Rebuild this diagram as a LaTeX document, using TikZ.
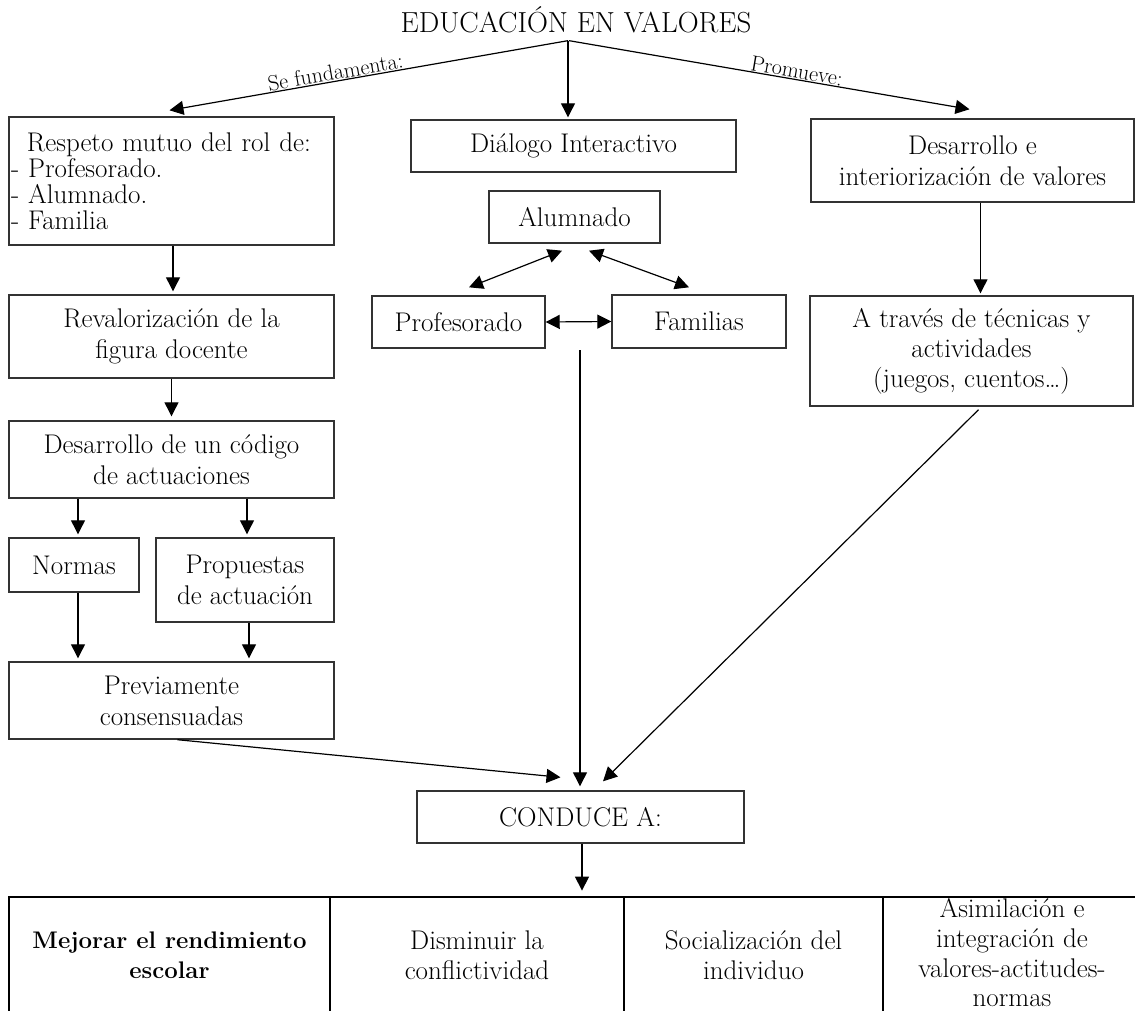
\documentclass[tikz,border=0pt]{standalone}
\usetikzlibrary{arrows.meta,calc}
\begin{document}
\begin{tikzpicture}[x=1pt,y=-1pt,
  every node/.style={font=\fontsize{27}{31}\selectfont},
  box/.style={draw=black!80, line width=1.4pt, inner sep=0pt, align=center},
  arr/.style={line width=1.2pt, -{Triangle[length=14pt,width=14pt]}},
  darr/.style={line width=1.2pt, {Triangle[length=14pt,width=14pt]}-{Triangle[length=14pt,width=14pt]}},
  lbl/.style={font=\fontsize{22}{24}\selectfont, sloped, above, inner sep=0.5pt},
  cell/.style={draw, line width=2.8pt, inner sep=0pt, align=center},
  celltext/.style={inner sep=0pt, align=center}
]
\useasboundingbox (0,0) rectangle (1135,1011);

% title
\node[inner sep=0pt, anchor=base, font=\fontsize{29}{31}\selectfont] (title) at (576,33) {EDUCACIÓN EN VALORES};

% left column
\node[box, minimum width=325pt, minimum height=128pt, text width=321pt, align=left,
      font=\fontsize{27}{26}\selectfont] (resp) at (171.5,181)
  {\hspace*{16pt}Respeto mutuo del rol de:\\- Profesorado.\\- Alumnado.\\- Familia};
\node[box, minimum width=325pt, minimum height=83pt] (reval) at (171.5,336.5)
  {Revalorización de la\\figura docente};
\node[box, minimum width=325pt, minimum height=77pt] (cod) at (171.5,459.5)
  {Desarrollo de un código\\de actuaciones};
\node[box, minimum width=130pt, minimum height=54pt] (norm) at (74,565) {Normas};
\node[box, minimum width=178pt, minimum height=84pt] (prop) at (245,580)
  {Propuestas\\de actuación};
\node[box, minimum width=325pt, minimum height=77pt] (prev) at (171.5,700.5)
  {Previamente\\consensuadas};

% middle column
\node[box, minimum width=325pt, minimum height=52pt] (dial) at (573.5,146) {Diálogo Interactivo};
\node[box, minimum width=171pt, minimum height=52pt] (alum) at (574.5,217) {Alumnado};
\node[box, minimum width=173pt, minimum height=52pt] (prof) at (458.5,322) {Profesorado};
\node[box, minimum width=174pt, minimum height=53pt] (fam) at (699,321.5) {Familias};
\coordinate (vtop) at (580,350);

% right column
\node[box, minimum width=323pt, minimum height=83pt] (desa) at (972.5,160.5)
  {Desarrollo e\\interiorización de valores};
\node[box, minimum width=323pt, minimum height=110pt, font=\fontsize{27}{30}\selectfont] (trav) at (971.5,351)
  {A través de técnicas y\\actividades\\(juegos, cuentos\ldots)};

% convergence
\node[box, minimum width=327pt, minimum height=52pt] (cond) at (580.5,817) {CONDUCE A:};

% outcomes (the table runs past the right and bottom edges)
\node[cell, minimum width=321pt, minimum height=117pt, font=\fontsize{24}{30}\selectfont] (c1) at (169.5,955.5)
  {\bfseries Mejorar el rendimiento\\\bfseries escolar};
\node[cell, minimum width=294pt, minimum height=117pt, font=\fontsize{27}{30}\selectfont] (c2) at (477,955.5)
  {Disminuir la\\conflictividad};
\node[cell, minimum width=259pt, minimum height=117pt, font=\fontsize{27}{30}\selectfont] (c3) at (753.5,955.5)
  {Socialización del\\individuo};
\node[cell, minimum width=258pt, minimum height=117pt] (c4) at (1012,955.5) {};
\node[celltext, font=\fontsize{27}{29.7}\selectfont] (c4t) at ($(c4.center)+(0,-2.5)$)
  {Asimilación e\\integración de\\valores-actitudes-\\normas};

% connectors from the title
\draw[arr] ([shift={(-8,7)}]title.south) -- node[lbl, pos=0.58] {Se fundamenta:} ($(resp.north)+(-2,-6)$);
\draw[arr] ([shift={(-8,7)}]title.south) -- ($(dial.north)+(-5.5,-2)$);
\draw[arr] ([shift={(-7,7)}]title.south) -- node[lbl, pos=0.565] {Promueve:} ($(desa.north)+(-3,-9)$);

% left chain
\draw[arr] ($(resp.south)+(1.5,0)$) -- ($(reval.north)+(1.5,-3)$);
\draw[arr] (reval.south) -- ($(cod.north)+(0,-4)$);
\draw[arr] ($(cod.south -| norm.north)+(4,0)$) -- ($(norm.north)+(4,-3)$);
\draw[arr] ($(cod.south -| prop.north)+(2,0)$) -- ($(prop.north)+(2,-3)$);
\draw[arr] ($(norm.south)+(4,0)$) -- ($(prev.north -| norm.south)+(4,-3)$);
\draw[arr] ($(prop.south)+(4,0)$) -- ($(prev.north -| prop.south)+(4,-3)$);
\draw[arr] ($(prev.south)+(6,0)$) -- ($(cond.north)+(-20,-13)$);

% dialogue triangle
\draw[darr] ($(alum.south)+(-12.5,7)$) -- ($(prof.north)+(10.5,-8)$);
\draw[darr] ($(alum.south)+(14.5,7)$) -- ($(fam.north)+(-10,-7)$);
\draw[darr] (prof.east) -- (fam.west);
\draw[arr] (vtop) -- ($(cond.north)+(-0.5,-4)$);

% right chain
\draw[arr] ($(desa.south)+(8,0)$) -- ($(trav.north)+(9,-2)$);
\draw[arr] ($(trav.south)+(7,3)$) -- ($(cond.north)+(22.5,-9)$);

% to the outcomes
\draw[arr] ($(cond.south)+(1.5,0)$) -- ($(cond.south |- c2.north)+(1.5,-5)$);
\end{tikzpicture}
\end{document}
